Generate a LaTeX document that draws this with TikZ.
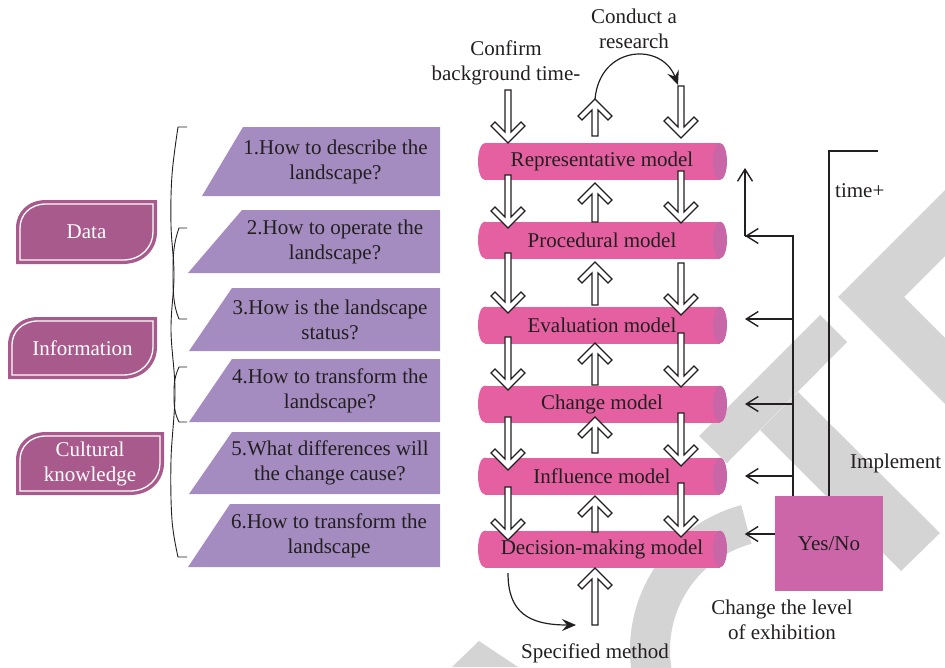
\documentclass[tikz,border=0pt]{standalone}
\usepackage{fontspec}
\setmainfont{Liberation Serif}
\usetikzlibrary{arrows.meta,calc}

\definecolor{tabfill}{RGB}{168,90,140}
\definecolor{qfill}{RGB}{164,139,192}
\definecolor{cylbody}{RGB}{228,96,160}
\definecolor{cylcap}{RGB}{200,102,168}
\definecolor{ynfill}{RGB}{204,102,168}
\definecolor{ink}{RGB}{35,31,32}
\definecolor{stamp}{RGB}{212,212,212}

\tikzset{
  lbl/.style={font=\fontsize{21}{25}\selectfont, text=ink, inner sep=0pt, align=center},
  hollow/.style={draw=ink, fill=white, line width=1.1pt, line join=miter},
  barb/.style={-{Straight Barb[length=12pt,width=15pt]}},
  feed/.style={draw=ink, line width=1.4pt, barb},
  bus/.style={draw=ink, line width=2.2pt},
  brace/.style={draw=ink, line width=0.9pt},
  curved/.style={draw=ink, line width=1.2pt, -{Stealth[length=14pt,width=12pt,inset=5pt]}},
}

% leaf-shaped tab with an inner white outline: left, top, right, bottom, name, text
\newcommand\leaftab[6]{%
  \fill[tabfill] (#1,#4) -- (#1,{#2+28}) .. controls (#1,{#2+12}) and ({#1+12},#2) .. ({#1+30},#2)
     -- (#3,#2) -- (#3,{#4-32}) .. controls (#3,{#4-14}) and ({#3-14},#4) .. ({#3-34},#4) -- cycle;
  \draw[white, line width=1.3pt] ({#1+4},{#4-4}) -- ({#1+4},{#2+28}) .. controls ({#1+4},{#2+15}) and ({#1+14},{#2+4}) .. ({#1+30},{#2+4})
     -- ({#3-4},{#2+4}) -- ({#3-4},{#4-32}) .. controls ({#3-4},{#4-17}) and ({#3-16},{#4-4}) .. ({#3-34},{#4-4}) -- cycle;
  \node[lbl, text=white] (#5) at ({(#1+#3)/2},{(#2+#4)/2}) {#6};
}

% slanted question box: top, bottom, top-left x, bottom-left x, name, text
\newcommand\qbox[6]{%
  \fill[qfill] (#3,#1) -- (440,#1) -- (440,#2) -- (#4,#2) -- cycle;
  \node[lbl] (#5) at ({(#3+440)/2-6},{(#1+#2)/2}) {#6};
}

% horizontal cylinder: name, centre y, text
\newcommand\cyl[3]{%
  \fill[cylbody] (485,{#2-18.5}) rectangle (720,{#2+18.5});
  \fill[cylbody] (485,#2) ellipse [x radius=7, y radius=18.5];
  \fill[cylcap] (720,#2) ellipse [x radius=7, y radius=18.5];
  \node[lbl] (#1) at (602,#2) {#3};
}

% hollow block arrow: x, tail y, tip y
\newcommand\harrow[3]{%
  \pgfmathsetmacro\hs{sign(#3-#2)}
  \draw[hollow] ({#1-3},#2) -- ({#1-3},{#3-\hs*11}) -- ({#1-13},{#3-\hs*21}) -- ({#1-17},{#3-\hs*17})
     -- (#1,#3) -- ({#1+17},{#3-\hs*17}) -- ({#1+13},{#3-\hs*21}) -- ({#1+3},{#3-\hs*11}) -- ({#1+3},#2) -- cycle;
}

\begin{document}
\begin{tikzpicture}[x=1pt, y=-1pt]
\path[use as bounding box] (0,0) rectangle (945,667);

% light grey stamp lettering in the background
\begin{scope}
  \clip (0,0) rectangle (945,667);
  \fill[stamp] (945,190) -- (838,297) -- (945,404) -- (945,338) -- (904,297) -- (945,256) -- cycle;
  \fill[stamp] (820,315) -- (847,342) -- (727,463) -- (699,436) -- cycle;
  \fill[stamp] (798,392) -- (760,430) -- (901,571) -- (940,533) -- cycle;
  \fill[stamp] (780,650) ++(255:150) arc[start angle=255, end angle=60, radius=150]
     -- ++(240:40) arc[start angle=60, end angle=255, radius=110] -- cycle;
  \fill[stamp] (452,667) -- (479,641) -- (518,667) -- cycle;
\end{scope}

% categories
\leaftab{16}{200}{157}{264}{data}{Data}
\leaftab{8}{317}{157}{379}{info}{Information}
\leaftab{16}{432}{164}{495}{culture}{Cultural\\knowledge}

% brackets grouping the questions
\draw[brace] (187,127) -- (178,127) plot[smooth, tension=0.6] coordinates
  {(178,127) (172,175) (171,225) (174,275) (171,330) (175,392) (171,460) (172,520) (178,557)} -- (187,557);
\draw[brace] (187,228) -- (179,228) .. controls (173,245) and (173,258) .. (173,273)
  .. controls (173,290) and (173,305) .. (179,319) -- (187,319);
\draw[brace] (187,367) -- (179,367) .. controls (174,378) and (174,385) .. (174,394)
  .. controls (174,404) and (174,412) .. (179,422) -- (187,422);

% questions
\qbox{127}{196}{243}{202}{q1}{1.How to describe the\\landscape?}
\qbox{210}{273}{242}{188}{q2}{2.How to operate the\\landscape?}
\qbox{288}{351}{232}{189}{q3}{3.How is the landscape\\status?}
\qbox{359}{422}{232}{189}{q4}{4.How to transform the\\landscape?}
\qbox{432}{494}{232}{189}{q5}{5.What differences will\\the change cause?}
\qbox{504}{567}{230}{188}{q6}{6.How to transform the\\landscape}

% model stack
\cyl{rep}{161.5}{Representative model}
\cyl{proc}{240}{Procedural model}
\cyl{eval}{325}{Evaluation model}
\cyl{chg}{404}{Change model}
\cyl{infl}{476}{Influence model}
\cyl{dec}{549}{Decision-making model}

% hollow arrows between the models
\harrow{508}{90}{143}   \harrow{595}{136}{99}  \harrow{681}{86}{138}
\harrow{508}{175}{228}  \harrow{595}{222}{183} \harrow{681}{171}{223}
\harrow{508}{253}{313}  \harrow{595}{305}{262} \harrow{681}{263}{315}
\harrow{508}{337}{390}  \harrow{595}{385}{343} \harrow{681}{333}{387}
\harrow{508}{417}{470}  \harrow{595}{453}{417} \harrow{681}{413}{466}
\harrow{508}{487}{540}  \harrow{595}{532}{496} \harrow{681}{483}{537}
\harrow{595}{625}{568}

% top and bottom labels
\node[lbl] (confirm) at (506,63) {Confirm\\background time-};
\node[lbl] (conduct) at (634,29) {Conduct a\\research};
\node[lbl] (specified) at (595,653) {Specified method};
\coordinate (resA) at (595,99);
\coordinate (resB) at (678,85);
\draw[curved] (resA) .. controls (600,45) and (662,42) .. (resB);
\coordinate (spA) at (508,573);
\coordinate (spB) at (576,625);
\draw[curved] (spA) .. controls (508,612) and (528,625) .. (spB);

% decision box and feedback lines
\node[fill=ynfill, minimum width=108pt, minimum height=95pt, inner sep=0pt,
      font=\fontsize{21}{25}\selectfont, text=ink] (yn) at (829,543.5) {Yes/No};
\coordinate (busbot) at (793,496);
\coordinate (bustop) at (793,236);
\coordinate (turn) at (745,236);
\coordinate (up) at (745,168);
\draw[bus] (busbot) -- (bustop) -- (turn);
\draw[feed] (bustop) -- (turn);
\draw[feed] (turn) -- (up);
\coordinate (b1) at (793,319);
\coordinate (b2) at (793,404);
\coordinate (b3) at (793,476);
\draw[feed] (b1) -- (b1 -| turn);
\draw[feed] (b2) -- (b2 -| turn);
\draw[feed] (b3) -- (b3 -| turn);
\draw[feed] ([yshift=9.5pt]yn.west) -- ++(-30,0);
\coordinate (tcorner) at (829,151);
\coordinate (tend) at (878,151);
\draw[draw=ink, line width=1.3pt] (yn.north) -- (tcorner) -- (tend);

\node[lbl, anchor=west] (timeplus) at (835,191) {time+};
\node[lbl, anchor=west] (implement) at (850,463) {Implement};
\node[lbl] (level) at (782,620) {Change the level\\of exhibition};
\end{tikzpicture}
\end{document}
